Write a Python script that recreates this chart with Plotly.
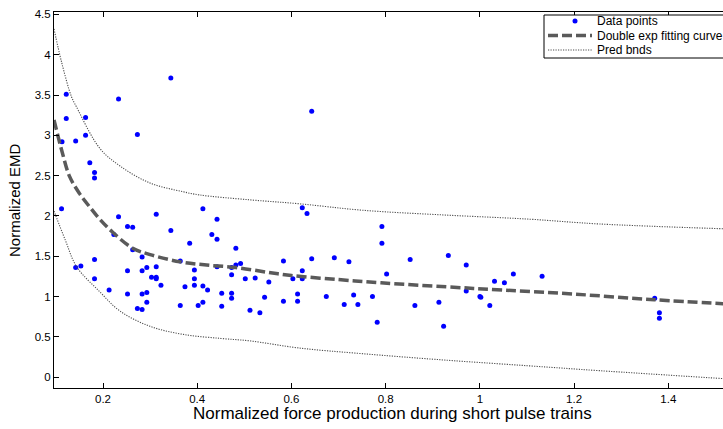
import plotly.graph_objects as go

# Data points
pts_x = [0.344, 0.122, 0.233, 0.122, 0.163, 0.273, 0.113, 0.142, 0.163, 0.172, 0.182, 0.182,
         0.112, 0.233, 0.313, 0.412, 0.442,
         0.252, 0.263, 0.344, 0.223, 0.431, 0.442, 0.384, 0.482, 0.263, 0.182, 0.142, 0.153,
         0.283, 0.313, 0.293, 0.252, 0.283, 0.364, 0.394, 0.442, 0.473, 0.482, 0.492, 0.583,
         0.303, 0.313, 0.313, 0.323, 0.182, 0.213, 0.252, 0.283, 0.293, 0.293, 0.273, 0.283,
         0.364, 0.374, 0.394, 0.394, 0.412, 0.422, 0.402, 0.412, 0.452, 0.452, 0.473, 0.473,
         0.473, 0.502, 0.523, 0.552, 0.543, 0.512, 0.533, 0.583, 0.603, 0.613, 0.613,
         0.623, 0.633, 0.792, 0.792, 0.643, 0.691, 0.722, 0.852, 0.933, 0.971, 0.623, 0.623,
         0.802, 1.071, 1.031, 1.052, 0.971, 1.000, 1.002, 1.021, 0.674, 0.732, 0.772, 0.712,
         0.741, 0.862, 0.913, 0.782, 0.923,
         1.132, 1.381, 1.381, 1.371, 0.643]
pts_y = [3.71, 3.51, 3.45, 3.21, 3.22, 3.01, 2.92, 2.93, 3.00, 2.66, 2.54, 2.47,
         2.09, 1.99, 2.02, 2.09, 1.96,
         1.87, 1.86, 1.82, 1.77, 1.77, 1.71, 1.66, 1.60, 1.58, 1.46, 1.36, 1.38,
         1.49, 1.37, 1.36, 1.32, 1.32, 1.44, 1.33, 1.37, 1.36, 1.39, 1.41, 1.44,
         1.24, 1.24, 1.22, 1.14, 1.22, 1.08, 1.03, 1.03, 1.05, 0.93, 0.85, 0.84,
         0.89, 1.12, 1.22, 1.14, 1.13, 1.08, 0.89, 0.93, 1.04, 0.88, 1.27, 1.04,
         0.98, 1.22, 1.23, 1.18, 0.99, 0.83, 0.80, 0.94, 1.22, 1.03, 0.94,
         2.10, 2.03, 1.87, 1.66, 1.47, 1.48, 1.43, 1.46, 1.51, 1.39, 1.32, 1.22,
         1.28, 1.28, 1.19, 1.17, 1.07, 1.00, 0.99, 0.89, 1.00, 1.02, 1.00, 0.90,
         0.90, 0.89, 0.93, 0.68, 0.63,
         1.25, 0.80, 0.73, 0.98, 3.30]

# Double exponential fitting curve
fit_x = [0.096, 0.113, 0.129, 0.150, 0.172, 0.193, 0.220, 0.263, 0.300, 0.364, 0.420,
         0.482, 0.550, 0.600, 0.700, 0.790, 0.930, 1.050, 1.200, 1.370, 1.520]
fit_y = [3.19, 2.80, 2.49, 2.28, 2.11, 1.96, 1.80, 1.60, 1.52, 1.43, 1.39,
         1.36, 1.30, 1.26, 1.21, 1.17, 1.12, 1.08, 1.03, 0.96, 0.91]

# Prediction bounds
up_x = [0.096, 0.112, 0.133, 0.144, 0.193, 0.236, 0.299, 0.370, 0.405, 0.511, 0.618,
        0.752, 0.929, 1.104, 1.254, 1.520]
up_y = [4.32, 3.91, 3.48, 3.35, 2.84, 2.62, 2.41, 2.30, 2.26, 2.20, 2.15,
        2.07, 2.01, 1.96, 1.90, 1.84]
lo_x = [0.096, 0.120, 0.144, 0.193, 0.236, 0.300, 0.370, 0.450, 0.511, 0.618,
        0.752, 0.929, 1.104, 1.254, 1.520]
lo_y = [2.06, 1.70, 1.37, 1.06, 0.82, 0.63, 0.53, 0.48, 0.45, 0.36,
        0.29, 0.21, 0.14, 0.08, -0.02]

x_ticks = [0.2, 0.4, 0.6, 0.8, 1.0, 1.2, 1.4]
x_tick_text = ["0.2", "0.4", "0.6", "0.8", "1", "1.2", "1.4"]
y_ticks = [0, 0.5, 1, 1.5, 2, 2.5, 3, 3.5, 4, 4.5]
y_tick_text = ["0", "0.5", "1", "1.5", "2", "2.5", "3", "3.5", "4", "4.5"]

legend_labels = ["Data points", "Double exp fitting curve", "Pred bnds"]

FONT = "Liberation Sans, Arial, sans-serif"
FIT_COLOR = "#5a5a5a"
BND_COLOR = "#4d4d4d"
FIT_DASH = "10px,4px"
BND_DASH = "1.2px,1.3px"

W, H = 723, 429
ML, MR, MT, MB = 54, 0, 12, 41
PW, PH = W - ML - MR, H - MT - MB


def px(x):
    return (x - ML) / PW


def py(y):
    return (H - MB - y) / PH


fig = go.Figure()
fig.add_trace(go.Scatter(x=pts_x, y=pts_y, mode="markers", name=legend_labels[0],
                         marker=dict(color="#0000ff", size=5, line=dict(width=0))))
fig.add_trace(go.Scatter(x=fit_x, y=fit_y, mode="lines", name=legend_labels[1],
                         line=dict(color=FIT_COLOR, width=3.5, dash=FIT_DASH, shape="spline")))
fig.add_trace(go.Scatter(x=up_x, y=up_y, mode="lines", name=legend_labels[2],
                         line=dict(color=BND_COLOR, width=1.1, dash=BND_DASH, shape="spline")))
fig.add_trace(go.Scatter(x=lo_x, y=lo_y, mode="lines", name=legend_labels[2],
                         line=dict(color=BND_COLOR, width=1.1, dash=BND_DASH, shape="spline")))

# Legend drawn as a compact MATLAB-style box
rows = [21, 35.5, 50]
shapes = [
    dict(type="rect", xref="paper", yref="paper", x0=px(544), x1=px(740), y0=py(58), y1=py(15),
         line=dict(color="black", width=1), fillcolor="white", layer="above"),
    dict(type="circle", xref="paper", yref="paper", x0=px(572.5), x1=px(577.5),
         y0=py(rows[0] + 2.5), y1=py(rows[0] - 2.5), line=dict(width=0), fillcolor="#0000ff",
         layer="above"),
    dict(type="line", xref="paper", yref="paper", x0=px(548), x1=px(592), y0=py(rows[1]),
         y1=py(rows[1]), line=dict(color=FIT_COLOR, width=3.5, dash=FIT_DASH), layer="above"),
    dict(type="line", xref="paper", yref="paper", x0=px(548), x1=px(592), y0=py(rows[2]),
         y1=py(rows[2]), line=dict(color=BND_COLOR, width=1.1, dash=BND_DASH), layer="above"),
]
annotations = [
    dict(text=lab, xref="paper", yref="paper", x=px(595), y=py(r), xanchor="left",
         yanchor="middle", showarrow=False, font=dict(size=12, family=FONT, color="black"))
    for lab, r in zip(legend_labels, rows)
]
annotations += [
    dict(text="Normalized force production during short pulse trains", xref="paper",
         yref="paper", x=px(392), y=py(414), xanchor="center", yanchor="middle",
         showarrow=False, font=dict(size=17, family=FONT)),
    dict(text="Normalized EMD", xref="paper", yref="paper", x=px(14), y=py(200),
         xanchor="center", yanchor="middle", textangle=-90, showarrow=False,
         font=dict(size=15, family=FONT)),
]

fig.update_layout(
    width=W, height=H,
    margin=dict(l=ML, r=MR, t=MT, b=MB),
    paper_bgcolor="white", plot_bgcolor="white",
    font=dict(family=FONT, size=11.5, color="black"),
    showlegend=False,
    xaxis=dict(range=[0.096, 1.516], tickvals=x_ticks, ticktext=x_tick_text,
               ticks="inside", ticklen=5, tickcolor="black", showline=True,
               linecolor="black", linewidth=1, mirror="ticks", showgrid=False,
               zeroline=False, tickfont=dict(size=11.5)),
    yaxis=dict(range=[-0.135, 4.53], tickvals=y_ticks, ticktext=y_tick_text,
               ticks="inside", ticklen=5, tickcolor="black", showline=True,
               linecolor="black", linewidth=1, mirror=False, showgrid=False,
               zeroline=False, tickfont=dict(size=11.5)),
    shapes=shapes,
    annotations=annotations,
)

fig.write_html("out.html")
